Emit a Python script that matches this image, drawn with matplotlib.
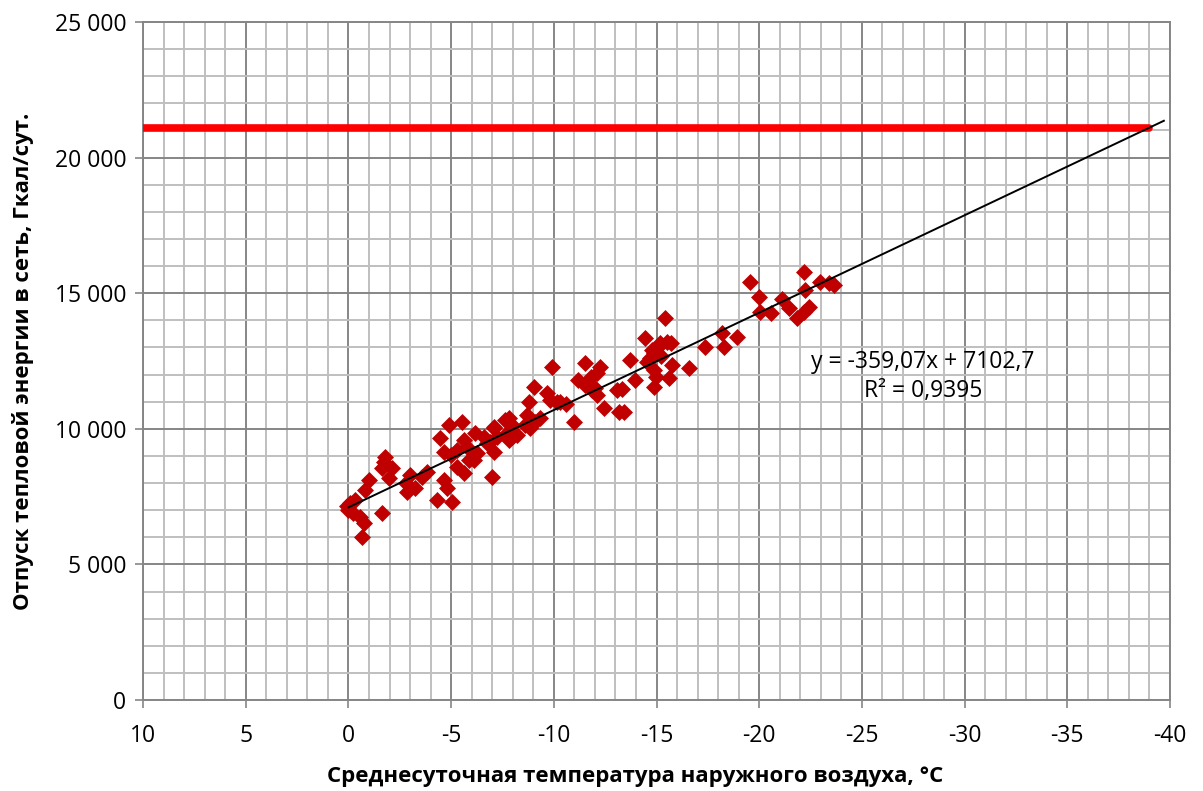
import matplotlib
matplotlib.use("Agg")
import matplotlib.pyplot as plt
from matplotlib.ticker import MultipleLocator, FuncFormatter

plt.rcParams['font.family'] = ['Open Sans', 'DejaVu Sans']

# Observed data: outdoor temperature (°C) and heat supply (Gcal/day)
temp = [-5.54, -4.88, -4.48, -6.18, -7.07, -7.64, -5.61, -5.78, -5.29, -4.64,
        -4.97, -1.80, -1.72, -2.13, -1.64, -1.96, -0.99, -0.83, -3.02, -2.78,
        -3.26, -2.86, -3.83, -3.59, -4.64, -4.81, -4.32, -5.05, -5.61, -5.29,
        -5.86, -7.00, -7.07, -6.75, -7.73, -0.10, -0.34, 0.00, -0.58, -0.74,
        -1.64, -0.67, 0.05, -0.20,
        -9.92, -11.54, -12.27, -12.11, -11.62, -11.86, -12.11, -12.43, -13.08, -13.16,
        -9.02, -9.67, -9.83, -10.16, -8.78, -8.70, -9.35, -9.10, -10.97, -7.80,
        -7.97, -8.62, -8.86, -7.07, -6.59, -7.24, -7.97, -8.21, -7.80, -6.91,
        -6.27, -6.10, -11.20, -11.50, -12.00, -11.80, -10.30, -10.60,
        -15.43, -14.46, -15.19, -15.52, -15.68, -15.03, -14.86, -14.70, -14.54, -17.38,
        -18.27, -18.19, -18.92, -16.57, -15.76, -13.73, -14.86, -14.95, -15.60, -14.86,
        -13.97, -13.32, -13.40, -14.80, -15.20,
        -22.17, -19.57, -22.98, -23.38, -23.63, -22.25, -19.97, -21.11, -21.44, -22.41,
        -22.17, -21.84, -20.06, -20.55]
supply = [10262, 10140, 9650, 9834, 10077, 10324, 9587, 9340, 9218, 9155,
          9034, 8971, 8787, 8543, 8543, 8175, 8112, 7743, 8296, 7990,
          7806, 7681, 8418, 8234, 8112, 7806, 7375, 7312, 8359, 8603,
          8850, 8234, 9155, 9465, 9834, 7253, 7375, 7006, 6759, 6515,
          6884, 6021, 7150, 6900,
          12290, 12438, 12290, 12045, 11676, 11431, 11246, 10755, 11431, 10630,
          11553, 11307, 11062, 10999, 10999, 10509, 10386, 10262, 10262, 10386,
          10140, 10140, 10017, 10017, 9711, 9711, 9711, 9772, 9587, 9525,
          9093, 8850, 11800, 11600, 11500, 11900, 11000, 10900,
          14075, 13337, 13153, 13214, 13153, 12970, 12786, 12601, 12476, 13030,
          13030, 13521, 13398, 12231, 12352, 12536, 12167, 11921, 11860, 11553,
          11799, 11467, 10630, 12900, 12700,
          15770, 15424, 15424, 15363, 15302, 15118, 14872, 14775, 14444, 14503,
          14319, 14075, 14319, 14258]

# Trend line (from the displayed equation) and design-load line
slope, intercept = -359.07, 7102.7
trend_x = [0.0, -39.7]
limit_value = 21100
limit_x = [10, -39]

x_ticks = [10, 5, 0, -5, -10, -15, -20, -25, -30, -35, -40]
y_ticks = [0, 5000, 10000, 15000, 20000, 25000]

fig = plt.figure(figsize=(12.03, 7.91), dpi=100)
ax = fig.add_axes([0.1189, 0.115, 0.8537, 0.8572])

ax.set_xlim(10, -40)
ax.set_ylim(0, 25000)
ax.xaxis.set_minor_locator(MultipleLocator(1))
ax.yaxis.set_minor_locator(MultipleLocator(1000))
ax.set_xticks(x_ticks)
ax.set_yticks(y_ticks)

ax.grid(which='minor', color='#BFBFBF', linewidth=1.4, zorder=0)
ax.grid(which='major', color='#868686', linewidth=1.4, zorder=0)
ax.set_axisbelow(True)

ax.xaxis.set_major_formatter(FuncFormatter(lambda v, p: f"{int(round(v))}"))
ax.yaxis.set_major_formatter(FuncFormatter(lambda v, p: f"{int(round(v)):,}".replace(",", " ")))
ax.tick_params(which='major', direction='out', length=6, width=1.2, color='#868686',
               labelsize=16.5)
ax.tick_params(axis='x', pad=11)
ax.tick_params(axis='y', pad=6)
ax.tick_params(which='minor', length=0)
for s in ax.spines.values():
    s.set_color('#868686')
    s.set_linewidth(1.4)

ax.plot(limit_x, [limit_value, limit_value], color='#FF0000', linewidth=5.5,
        solid_capstyle='round', zorder=3)
ax.plot(trend_x, [slope * x + intercept for x in trend_x], color='black',
        linewidth=1.4, zorder=5)
ax.scatter(temp, supply, marker='D', s=75, color='#C00000', linewidths=0, zorder=4)

ax.text(-22.5, 12480, "y = -359,07x + 7102,7", fontsize=16.5, ha='left', va='center')
ax.text(-25.1, 11380, "R² = 0,9395", fontsize=16.5, ha='left', va='center')

ax.set_xlabel("Среднесуточная температура наружного воздуха, °C", fontsize=16,
              fontweight='bold')
ax.xaxis.set_label_coords(0.479, -0.097)
ax.set_ylabel("Отпуск тепловой энергии в сеть, Гкал/сут.", fontsize=16,
              fontweight='bold')
ax.yaxis.set_label_coords(-0.106, 0.5)

fig.savefig("out.png", dpi=100)
